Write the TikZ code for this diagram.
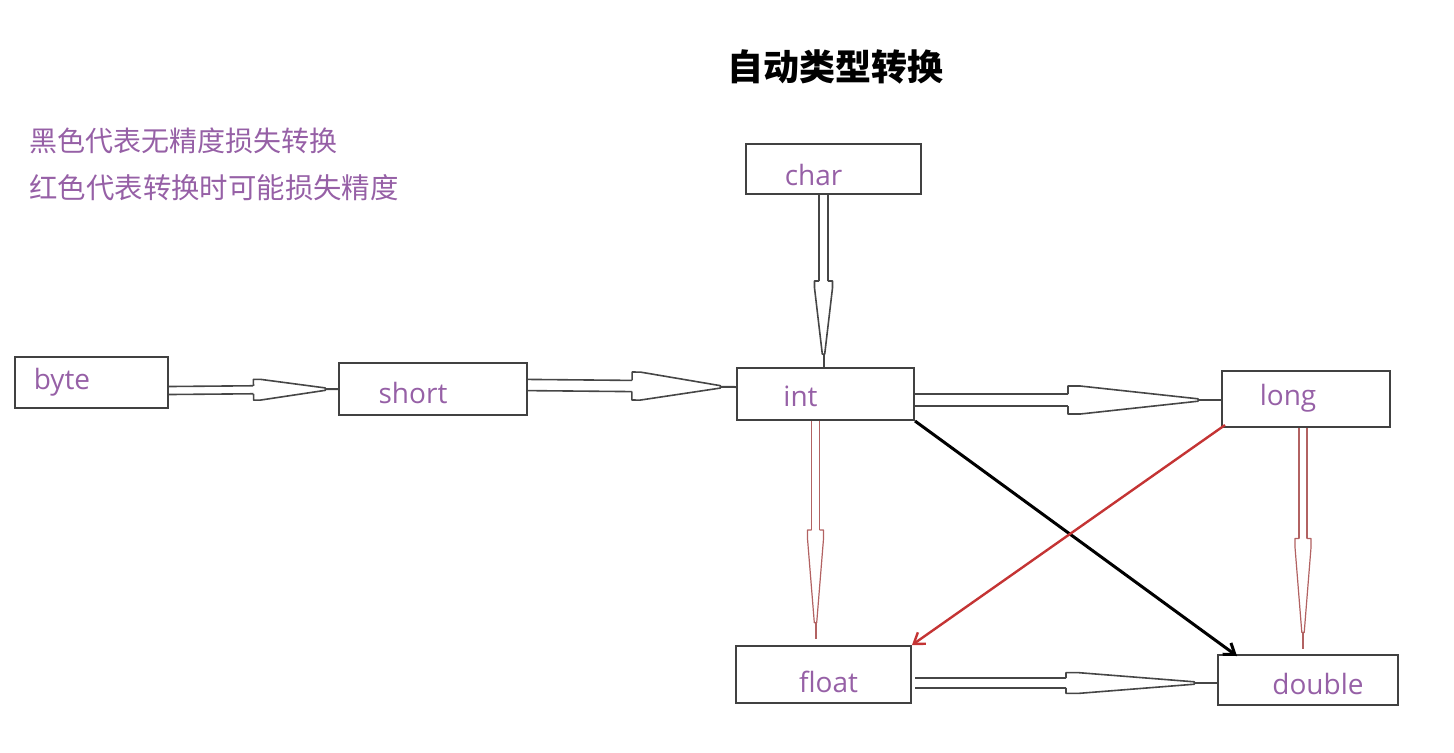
\documentclass[tikz,border=0pt]{standalone}
\usepackage{fontspec}
\setmainfont{Open Sans}
\newfontfamily\cjk{Noto Sans CJK SC}
\usetikzlibrary{calc, decorations.markings, arrows.meta}

\definecolor{boxgray}{RGB}{65,65,65}
\definecolor{convgray}{RGB}{70,70,70}
\definecolor{lossred}{RGB}{196,52,52}
\definecolor{lossline}{RGB}{178,98,98}
\definecolor{textpurple}{RGB}{150,96,166}

% shaft + hollow head along a straight path: colour, half gap, half head, line width
\newcommand{\convshape}[4]{%
  \pgfmathsetlengthmacro\convhalf{0.5*\pgfdecoratedpathlength}%
  \pgfmathsetlengthmacro\convshoulder{1.08*\convhalf}%
  \pgfmathsetlengthmacro\convneck{1.85*\convhalf}%
  \draw[color=#1, line width=#4] (0pt,#2) -- (\convhalf,#2) (0pt,-#2) -- (\convhalf,-#2);
  \fill[white] (\convhalf,#3) -- (\convshoulder,#3) -- (\convneck,0.6pt) -- (\convneck,-0.6pt)
    -- (\convshoulder,-#3) -- (\convhalf,-#3) -- cycle;
  \draw[color=#1, line width=#4, line join=round] (\convhalf,#2) -- (\convhalf,#3) -- (\convshoulder,#3)
    -- (\convneck,0.6pt) -- (\convneck,-0.6pt) -- (\convshoulder,-#3) -- (\convhalf,-#3) -- (\convhalf,-#2);
  \draw[color=#1, line width=1pt] (\convneck,0pt) -- (\pgfdecoratedpathlength,0pt);
}

\tikzset{
  typebox/.style={draw=boxgray, line width=1pt, inner sep=0pt},
  typelabel/.style={text=textpurple, font=\fontsize{14}{16}\selectfont},
  legend/.style={anchor=west, inner sep=0pt, text=textpurple},
  convert/.style n args={4}{decorate, decoration={markings,
      mark=at position 0 with {\convshape{#1}{#2}{#3}{#4}}}},
}

\begin{document}
\begin{tikzpicture}[x=0.5pt, y=-0.5pt]
\useasboundingbox (0,0) rectangle (1454,752);

% title and legend
\node[font=\cjk\bfseries\fontsize{18}{20}\selectfont] (title) at (835,67) {自动类型转换};
\node[legend, font=\cjk\fontsize{14}{16}\selectfont] (legend-black) at (29,141) {黑色代表无精度损失转换};
\node[legend, font=\cjk\fontsize{14.2}{16}\selectfont] (legend-red) at (29,188) {红色代表转换时可能损失精度};

% type boxes
\foreach \name/\x/\y/\w/\h in {byte/91.5/382.5/153/51, short/433/389/188/52, char/833.5/169/175/50,
    int/825.5/394/177/52, long/1306/399/168/56, float/823.5/674.5/175/57, double/1308/680/180/50}
  \node[typebox, minimum width=\w*0.5pt, minimum height=\h*0.5pt] (\name) at (\x,\y) {};

% box labels
\foreach \name/\dx/\dy in {byte/-29.5/0, short/-20/4, char/-20/6, int/-25/2, long/-18/-1,
    float/5/7.5, double/10/4}
  \node[typelabel] (\name-label) at ($(\name)+(\dx,\dy)$) {\name};

% lossless conversions (black)
\path[convert={convgray}{2pt}{5.2pt}{0.8pt}] ($(byte.east)+(0,8)$) -- (short.west);
\path[convert={convgray}{2.8pt}{7pt}{0.8pt}] ($(short.east)+(0,-4)$) -- ($(int.west)+(0,-7)$);
\path[convert={convgray}{3pt}{7pt}{0.8pt}] ($(int.east)+(0,6)$) -- ($(long.west)+(0,1)$);
\path[convert={convgray}{2.2pt}{4.5pt}{0.8pt}] ($(char.south)+(-10,0)$) -- ($(int.north)+(-2,0)$);
\path[convert={convgray}{2.4pt}{5.2pt}{0.8pt}] ($(float.east)+(3,8.5)$) -- ($(double.west)+(0,3)$);
\draw[line width=1.5pt, black, -{Straight Barb[length=5pt, width=7pt]}]
  (int.south east) -- ($(double.north west)+(20,2)$);

% conversions that may lose precision (red)
\path[convert={lossline}{2pt}{4pt}{0.6pt}] ($(int.south)+(-10,0)$) -- ($(float.north)+(-8,-6)$);
\path[convert={lossline}{2pt}{4pt}{0.6pt}] ($(long.south)+(-3,0)$) -- ($(double.north)+(-5,-5)$);
\draw[line width=1.2pt, lossred, -{Straight Barb[length=5pt, width=7pt]}]
  ($(long.south west)+(4,-3)$) -- (float.north east);
\end{tikzpicture}
\end{document}
